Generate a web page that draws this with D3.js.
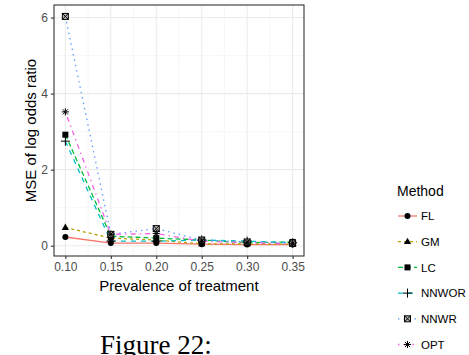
<!DOCTYPE html>
<html>
<head>
<meta charset="utf-8">
<script src="https://cdn.jsdelivr.net/npm/d3@7"></script>
<style>
  body { margin: 0; background: #fff; }
  svg { display: block; font-family: "Liberation Sans", Arial, sans-serif; }
</style>
</head>
<body>
<div id="chart"></div>
<script>
// prevalence of treatment (x)
var prevalence = [0.10, 0.15, 0.20, 0.25, 0.30, 0.35];
var methods = ["FL", "GM", "LC", "NNWOR", "NNWR", "OPT"];
// MSE of log odds ratio per method
var FL    = [0.23, 0.07, 0.07, 0.04, 0.03, 0.03];
var GM    = [0.48, 0.20, 0.15, 0.05, 0.05, 0.04];
var LC    = [2.92, 0.25, 0.20, 0.15, 0.08, 0.10];
var NNWOR = [2.75, 0.12, 0.12, 0.15, 0.12, 0.08];
var NNWR  = [6.03, 0.30, 0.45, 0.15, 0.10, 0.07];
var OPT   = [3.52, 0.30, 0.32, 0.12, 0.08, 0.05];
var xTicks = [0.10, 0.15, 0.20, 0.25, 0.30, 0.35];
var yTicks = [0, 2, 4, 6];

var seriesValues = [FL, GM, LC, NNWOR, NNWR, OPT];
var colors = ["#F8766D", "#B79F00", "#00BA38", "#00BFC4", "#619CFF", "#F564E3"];
var dashes = [null, "3,3", "5,3", "5,5", "1.5,4", "1.5,4,5,4"];
var shapes = ["circle", "triangle", "square", "plus", "boxx", "star"];

var width = 469, height = 355;
var panel = {left: 54, right: 304, top: 5, bottom: 256};

var svg = d3.select("#chart").append("svg")
    .attr("width", width)
    .attr("height", height);

var x = d3.scaleLinear()
    .domain([0.0875, 0.3625])
    .range([panel.left, panel.right]);
var y = d3.scaleLinear()
    .domain([-0.27, 6.33])
    .range([panel.bottom, panel.top]);

//Grid lines (minor then major)
var grid = svg.append("g");
var xMinor = [0.125, 0.175, 0.225, 0.275, 0.325];
var yMinor = [1, 3, 5];
grid.selectAll(".xminor").data(xMinor).enter().append("line")
    .attr("x1", d => x(d)).attr("x2", d => x(d))
    .attr("y1", panel.top).attr("y2", panel.bottom)
    .attr("stroke", "#F2F2F2").attr("stroke-width", 0.6);
grid.selectAll(".yminor").data(yMinor).enter().append("line")
    .attr("x1", panel.left).attr("x2", panel.right)
    .attr("y1", d => y(d)).attr("y2", d => y(d))
    .attr("stroke", "#F2F2F2").attr("stroke-width", 0.6);
grid.selectAll(".xmajor").data(xTicks).enter().append("line")
    .attr("x1", d => x(d)).attr("x2", d => x(d))
    .attr("y1", panel.top).attr("y2", panel.bottom)
    .attr("stroke", "#EBEBEB").attr("stroke-width", 1.1);
grid.selectAll(".ymajor").data(yTicks).enter().append("line")
    .attr("x1", panel.left).attr("x2", panel.right)
    .attr("y1", d => y(d)).attr("y2", d => y(d))
    .attr("stroke", "#EBEBEB").attr("stroke-width", 1.1);

function symbolPath(g, shape, size) {
    var s = size;
    if (shape === "circle") {
        g.append("circle").attr("r", s * 0.5).attr("fill", "#000");
    } else if (shape === "triangle") {
        g.append("path").attr("d", "M0," + (-s * 0.65) + "L" + (s * 0.6) + "," + (s * 0.4) + "L" + (-s * 0.6) + "," + (s * 0.4) + "Z")
            .attr("fill", "#000");
    } else if (shape === "square") {
        g.append("rect").attr("x", -s * 0.5).attr("y", -s * 0.5)
            .attr("width", s).attr("height", s).attr("fill", "#000");
    } else if (shape === "plus") {
        g.append("path").attr("d", "M" + (-s * 0.75) + ",0H" + (s * 0.75) + "M0," + (-s * 0.75) + "V" + (s * 0.75))
            .attr("stroke", "#000").attr("stroke-width", 1).attr("fill", "none");
    } else if (shape === "boxx") {
        var h = s * 0.5;
        g.append("rect").attr("x", -h).attr("y", -h).attr("width", 2 * h).attr("height", 2 * h)
            .attr("fill", "#bbb").attr("stroke", "#000").attr("stroke-width", 1);
        g.append("path").attr("d", "M" + (-h) + "," + (-h) + "L" + h + "," + h + "M" + h + "," + (-h) + "L" + (-h) + "," + h)
            .attr("stroke", "#000").attr("stroke-width", 1);
    } else if (shape === "star") {
        var r = s * 0.6;
        var d = "";
        for (var k = 0; k < 4; k++) {
            var a = k * Math.PI / 4;
            d += "M" + (-r * Math.cos(a)) + "," + (-r * Math.sin(a)) + "L" + (r * Math.cos(a)) + "," + (r * Math.sin(a));
        }
        g.append("path").attr("d", d).attr("stroke", "#000").attr("stroke-width", 1);
    }
}

var line = d3.line()
    .x((d, i) => x(prevalence[i]))
    .y(d => y(d));

//Lines for each series
seriesValues.forEach(function (vals, i) {
    svg.append("path")
        .datum(vals)
        .attr("d", line)
        .attr("fill", "none")
        .attr("stroke", colors[i])
        .attr("stroke-width", 1.3)
        .attr("stroke-dasharray", dashes[i]);
});
//Points
seriesValues.forEach(function (vals, i) {
    vals.forEach(function (v, j) {
        var g = svg.append("g")
            .attr("transform", "translate(" + x(prevalence[j]) + "," + y(v) + ")");
        symbolPath(g, shapes[i], 6);
    });
});

//Panel border
svg.append("rect")
    .attr("x", panel.left).attr("y", panel.top)
    .attr("width", panel.right - panel.left).attr("height", panel.bottom - panel.top)
    .attr("fill", "none").attr("stroke", "#333333").attr("stroke-width", 1.1);

//Axes
var axisX = svg.append("g")
    .attr("transform", "translate(0," + panel.bottom + ")")
    .call(d3.axisBottom(x).tickValues(xTicks).tickFormat(d3.format(".2f")).tickSize(3).tickPadding(3));
var axisY = svg.append("g")
    .attr("transform", "translate(" + panel.left + ",0)")
    .call(d3.axisLeft(y).tickValues(yTicks).tickFormat(d3.format("d")).tickSize(3).tickPadding(3));
[axisX, axisY].forEach(function (a) {
    a.select(".domain").remove();
    a.selectAll(".tick line").attr("stroke", "#333333").attr("stroke-width", 1.1);
    a.selectAll(".tick text").attr("fill", "#4D4D4D").style("font-size", "12px")
        .style("font-family", "'Liberation Sans', Arial, sans-serif");
});

svg.append("text")
    .attr("x", (panel.left + panel.right) / 2)
    .attr("y", 291)
    .attr("text-anchor", "middle")
    .style("font-size", "15px")
    .text("Prevalence of treatment");

svg.append("text")
    .attr("transform", "translate(36," + ((panel.top + panel.bottom) / 2) + ") rotate(-90)")
    .attr("text-anchor", "middle")
    .style("font-size", "15px")
    .text("MSE of log odds ratio");

//Legend
var legend = svg.append("g").attr("transform", "translate(397,0)");
legend.append("text")
    .attr("x", 0).attr("y", 196)
    .style("font-size", "14px")
    .text("Method");
methods.forEach(function (m, i) {
    var cy = 216 + i * 25.7;
    legend.append("line")
        .attr("x1", 1).attr("x2", 20)
        .attr("y1", cy).attr("y2", cy)
        .attr("stroke", colors[i]).attr("stroke-width", 1.3)
        .attr("stroke-dasharray", dashes[i]);
    var g = legend.append("g").attr("transform", "translate(10.5," + cy + ")");
    symbolPath(g, shapes[i], 6);
    legend.append("text")
        .attr("x", 24).attr("y", cy + 4.2)
        .style("font-size", "11.5px")
        .text(m);
});

//Caption
svg.append("text")
    .attr("x", 100).attr("y", 354)
    .style("font-family", "'Liberation Serif', 'DejaVu Serif', serif")
    .style("font-size", "27px")
    .text("Figure 22:");
</script>
</body>
</html>
